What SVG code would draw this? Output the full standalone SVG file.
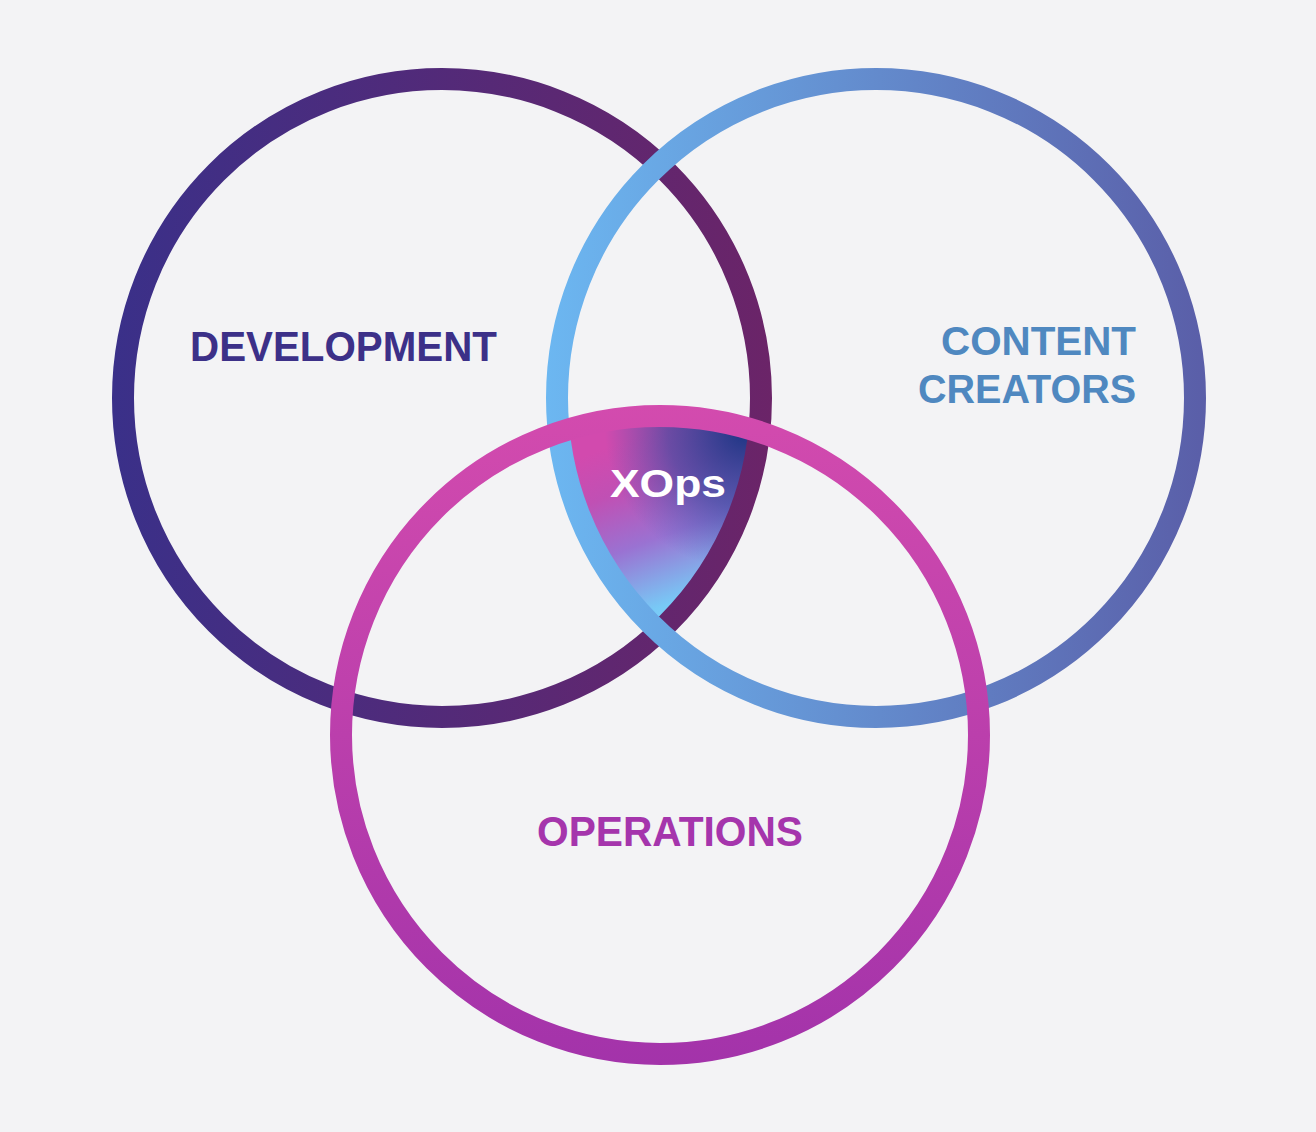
<svg xmlns="http://www.w3.org/2000/svg" width="1316" height="1132" viewBox="0 0 1316 1132">
<style>
.ring{fill:none;stroke-width:22}
.lbl{font-family:"Liberation Sans",Arial,sans-serif;font-weight:bold}
</style>
<defs>
<linearGradient id="gDev" gradientUnits="userSpaceOnUse" x1="112" y1="0" x2="772" y2="0">
<stop offset="0" stop-color="#3a3089"/><stop offset="1" stop-color="#6b2468"/>
</linearGradient>
<linearGradient id="gCon" gradientUnits="userSpaceOnUse" x1="547" y1="0" x2="1206" y2="0">
<stop offset="0" stop-color="#6cb7f1"/><stop offset="1" stop-color="#5a5ea8"/>
</linearGradient>
<linearGradient id="gOps" gradientUnits="userSpaceOnUse" x1="0" y1="404" x2="0" y2="1066">
<stop offset="0" stop-color="#d34bae"/><stop offset="1" stop-color="#a333aa"/>
</linearGradient>
<linearGradient id="gX" gradientUnits="userSpaceOnUse" x1="600" y1="450" x2="665" y2="625">
<stop offset="0" stop-color="#d24aae"/><stop offset="0.25" stop-color="#c050b4"/><stop offset="0.55" stop-color="#9a72d2"/><stop offset="0.9" stop-color="#78c9f6"/><stop offset="1" stop-color="#7cd0f8"/>
</linearGradient>
<radialGradient id="gXn" gradientUnits="userSpaceOnUse" cx="745" cy="430" r="140">
<stop offset="0" stop-color="#1c3584" stop-opacity="1"/><stop offset="0.55" stop-color="#2a4a9c" stop-opacity="0.6"/><stop offset="1" stop-color="#3a5ab0" stop-opacity="0"/>
</radialGradient>
<clipPath id="cDev"><circle cx="442" cy="398" r="319"/></clipPath>
<clipPath id="cCon"><circle cx="876" cy="398" r="319"/></clipPath>
<clipPath id="cOps"><circle cx="660" cy="735" r="319"/></clipPath>
</defs>
<rect width="1316" height="1132" fill="#f3f3f5"/>
<g id="xops-fill" clip-path="url(#cDev)">
<g clip-path="url(#cCon)">
<g clip-path="url(#cOps)">
<rect x="520" y="380" width="280" height="300" fill="url(#gX)"/>
<rect x="520" y="380" width="280" height="300" fill="url(#gXn)"/>
</g>
</g>
</g>
<g id="development">
<circle class="ring" cx="442" cy="398" r="319" stroke="url(#gDev)"/>
<text class="lbl" x="190" y="361" font-size="42" fill="#3c3088" textLength="307" lengthAdjust="spacingAndGlyphs">DEVELOPMENT</text>
</g>
<g id="content-creators">
<circle class="ring" cx="876" cy="398" r="319" stroke="url(#gCon)"/>
<text class="lbl" x="941" y="355" font-size="41" fill="#4f88c0" textLength="195" lengthAdjust="spacingAndGlyphs">CONTENT</text>
<text class="lbl" x="918" y="403" font-size="41" fill="#4f88c0" textLength="218" lengthAdjust="spacingAndGlyphs">CREATORS</text>
</g>
<g id="operations">
<circle class="ring" cx="660" cy="735" r="319" stroke="url(#gOps)"/>
<text class="lbl" x="537" y="846" font-size="42" fill="#a535ac" textLength="266" lengthAdjust="spacingAndGlyphs">OPERATIONS</text>
</g>
<g id="xops">
<text class="lbl" x="610" y="497" font-size="39" fill="#ffffff" textLength="116" lengthAdjust="spacingAndGlyphs">XOps</text>
</g>
<g id="connectors"/>
</svg>
